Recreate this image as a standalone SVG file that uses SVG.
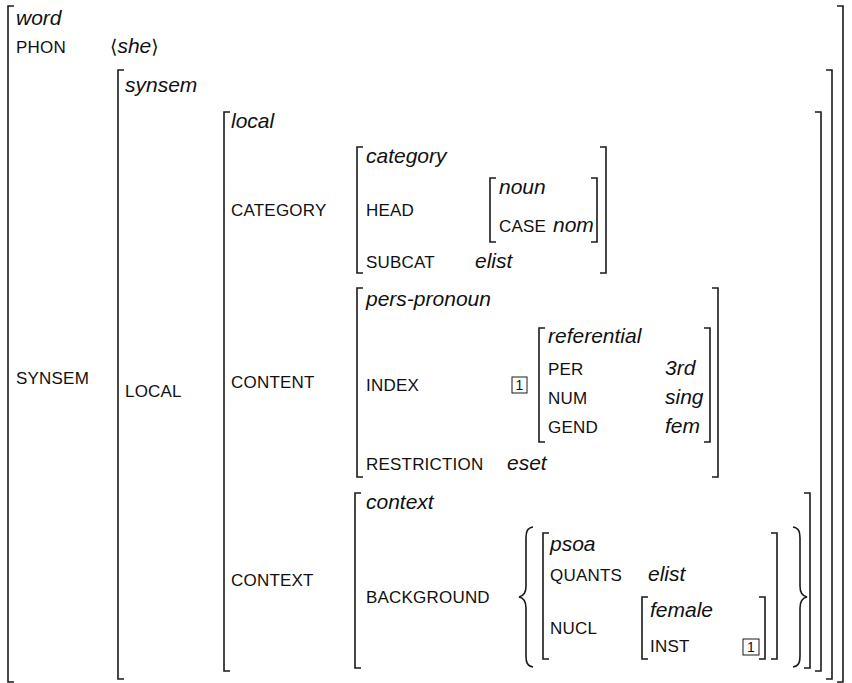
<svg xmlns="http://www.w3.org/2000/svg" width="852" height="683" viewBox="0 0 852 683">
<style>
.a{font-family:"Liberation Sans",Arial,sans-serif;font-size:17px;letter-spacing:0.2px;fill:#111}
.t{font-family:"Liberation Sans",Arial,sans-serif;font-size:21px;font-style:italic;fill:#111}
.b{fill:none;stroke:#1a1a1a;stroke-width:1.6}
.tag{fill:none;stroke:#1a1a1a;stroke-width:1}
.n{font-family:"Liberation Sans",Arial,sans-serif;font-size:14px;fill:#111}
.ang{font-family:"DejaVu Sans",sans-serif;font-size:19px;fill:#111}
</style>
<rect width="852" height="683" fill="#fff"/>
<g id="word">
<path class="b" d="M14,6H8V682H14"/>
<path class="b" d="M837,6H843V682H837"/>
<text class="t" x="16" y="25">word</text>
<text class="a" x="16" y="53">PHON</text>
<text x="110" y="53"><tspan class="ang">⟨</tspan><tspan class="t">she</tspan><tspan class="ang">⟩</tspan></text>
<text class="a" x="16" y="384">SYNSEM</text>
</g>
<g id="synsem">
<path class="b" d="M124,70H118V679H124"/>
<path class="b" d="M826,70H832V679H826"/>
<text class="t" x="125" y="92">synsem</text>
<text class="a" x="125" y="397">LOCAL</text>
</g>
<g id="local">
<path class="b" d="M230,112H224V671H230"/>
<path class="b" d="M815,112H821V671H815"/>
<text class="t" x="231" y="128">local</text>
<text class="a" x="231" y="216">CATEGORY</text>
<text class="a" x="231" y="388">CONTENT</text>
<text class="a" x="231" y="586">CONTEXT</text>
</g>
<g id="category">
<path class="b" d="M363,147H357V273H363"/>
<path class="b" d="M600,147H606V273H600"/>
<text class="t" x="366" y="163">category</text>
<text class="a" x="366" y="216">HEAD</text>
<text class="a" x="366" y="268">SUBCAT</text>
<text class="t" x="475" y="268">elist</text>
</g>
<g id="noun">
<path class="b" d="M496,178H490V242H496"/>
<path class="b" d="M591,178H597V242H591"/>
<text class="t" x="499" y="194">noun</text>
<text class="a" x="499" y="232">CASE</text>
<text class="t" x="553" y="232">nom</text>
</g>
<g id="pers-pronoun">
<path class="b" d="M363,288H357V477H363"/>
<path class="b" d="M712,288H718V477H712"/>
<text class="t" x="366" y="306">pers-pronoun</text>
<text class="a" x="366" y="391">INDEX</text>
<rect class="tag" x="512" y="377" width="15" height="16"/>
<text class="n" x="519.5" y="390" text-anchor="middle">1</text>
<text class="a" x="366" y="470">RESTRICTION</text>
<text class="t" x="507" y="470">eset</text>
</g>
<g id="referential">
<path class="b" d="M545,328H539V442H545"/>
<path class="b" d="M704,328H710V442H704"/>
<text class="t" x="548" y="343">referential</text>
<text class="a" x="548" y="375">PER</text>
<text class="t" x="665" y="375">3rd</text>
<text class="a" x="548" y="404">NUM</text>
<text class="t" x="665" y="404">sing</text>
<text class="a" x="548" y="433">GEND</text>
<text class="t" x="665" y="433">fem</text>
</g>
<g id="context">
<path class="b" d="M361,493H355V668H361"/>
<path class="b" d="M804,493H810V668H804"/>
<text class="t" x="366" y="509">context</text>
<text class="a" x="366" y="603">BACKGROUND</text>
<path class="b" stroke-width="2" d="M533,527C527,528 526,532 526,538V586C526,592 524,596 519,597C524,598 526,602 526,608V656C526,662 527,666 533,667"/>
<path class="b" stroke-width="2" d="M793,527C799,528 800,532 800,538V586C800,592 802,596 807,597C802,598 800,602 800,608V656C800,662 799,666 793,667"/>
</g>
<g id="psoa">
<path class="b" d="M549,533H543V659H549"/>
<path class="b" d="M771,533H777V659H771"/>
<text class="t" x="550" y="551">psoa</text>
<text class="a" x="550" y="581">QUANTS</text>
<text class="t" x="648" y="581">elist</text>
<text class="a" x="550" y="634">NUCL</text>
</g>
<g id="female">
<path class="b" d="M648,597H642V659H648"/>
<path class="b" d="M759,597H765V659H759"/>
<text class="t" x="650" y="617">female</text>
<text class="a" x="650" y="652">INST</text>
<rect class="tag" x="743" y="639" width="16" height="16"/>
<text class="n" x="751" y="652" text-anchor="middle">1</text>
</g>
<g id="connectors"></g>
</svg>
